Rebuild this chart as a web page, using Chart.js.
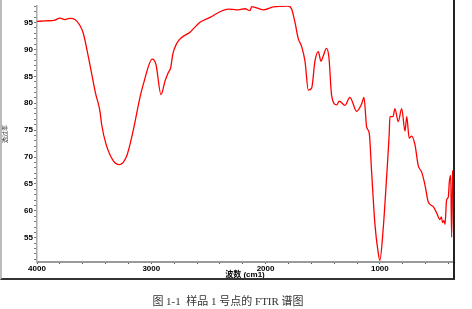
<!DOCTYPE html>
<html>
<head>
<meta charset="utf-8">
<script src="https://cdn.jsdelivr.net/npm/chart.js@4/dist/chart.umd.min.js"></script>
<style>
  body { margin: 0; background: #fff; }
  #wrap { position: relative; width: 472px; height: 309px; overflow: hidden; }
  #frame {
    position: absolute; left: 0; top: -2px; width: 455px; height: 282px;
    border-left: 2px solid #bbb; border-right: 2px solid #222; border-bottom: 2px solid #333;
    box-sizing: border-box;
  }
  #caption {
    position: absolute; left: 0; width: 456px; top: 292px; text-align: center;
    font: 11px "Liberation Serif", "Noto Sans CJK SC", serif; color: #333; white-space: pre;
  }
</style>
</head>
<body>
<div id="wrap">
  <canvas id="chart" width="472" height="309"></canvas>
  <div id="frame"></div>
  <div id="caption">图 1-1  样品 1 号点的 FTIR 谱图</div>
</div>
<script>
// wavenumber (cm-1) and transmittance (%)
const wavenumbers = [4000, 3930, 3843, 3800, 3755, 3711, 3668, 3624, 3595, 3554, 3521, 3486, 3449, 3434, 3396,
  3332, 3280, 3215, 3157, 3099, 3070, 2991, 2959, 2915, 2880, 2851, 2830, 2813, 2778, 2734, 2661,
  2574, 2486, 2399, 2326, 2253, 2180, 2136, 2122, 2020, 1933, 1801, 1772, 1743, 1714, 1684, 1655,
  1626, 1597, 1568, 1539, 1515, 1495, 1467, 1445, 1422, 1378, 1355, 1305, 1262, 1203, 1159, 1139,
  1115, 1093, 1072, 1043, 1017, 1000, 970, 940, 918, 912, 885, 868, 839, 809, 780, 765, 743, 722,
  693, 664, 634, 605, 577, 533, 503, 474, 462, 451, 440, 430, 416, 401, 392, 380, 372, 363];
const transmittance = [95.2, 95.3, 95.45, 95.8, 95.55, 95.75, 95.55, 94.45, 93.0, 89.0, 85.4, 81.7, 78.5, 76.0, 72.4,
  69.3, 68.6, 70.2, 75.05, 81.1, 83.5, 88.2, 87.2, 81.6, 84.1, 85.7, 86.6, 89.0, 91.1, 92.2, 93.2,
  95.05, 95.95, 97.0, 97.5, 97.35, 97.55, 97.2, 97.95, 97.35, 97.9, 98.05, 97.5, 95.05, 92.0, 90.5, 87.8,
  82.45, 82.8, 87.8, 89.6, 87.8, 88.8, 90.2, 88.4, 81.4, 79.7, 80.4, 79.6, 81.1, 78.5, 79.9, 81.1,
  75.5, 74.45, 67.2, 57.5, 52.6, 50.8, 56.9, 66.6, 74.45, 77.5, 77.5, 79.0, 76.6, 79.0, 74.8, 77.5, 73.5, 73.9,
  72.3, 68.4, 67.2, 64.8, 61.7, 60.8, 59.6, 58.4, 58.9, 57.8, 58.2, 57.5, 62.0, 62.6, 65.4, 66.6, 55.1, 67.5];
// tick positions (minor + major) and the ones that carry a label
const xTicks = [400, 600, 800, 1000, 1200, 1400, 1600, 1800, 2000, 2200, 2400, 2600, 2800, 3000,
  3200, 3400, 3600, 3800, 4000];
const xLabels = [1000, 2000, 3000, 4000];
const yTicks = [51, 52, 53, 54, 55, 56, 57, 58, 59, 60, 61, 62, 63, 64, 65, 66, 67, 68, 69, 70, 71, 72,
  73, 74, 75, 76, 77, 78, 79, 80, 81, 82, 83, 84, 85, 86, 87, 88, 89, 90, 91, 92, 93, 94, 95, 96, 97, 98];
const yLabels = [55, 60, 65, 70, 75, 80, 85, 90, 95];

const points = wavenumbers.map(function (w, i) { return { x: w, y: transmittance[i] }; });
const tickFont = { family: "Liberation Sans, Arial, sans-serif", size: 8, weight: "bold" };

function setTicks(list) {
  return function (scale) {
    scale.ticks = list.map(function (v) { return { value: v }; });
  };
}
function labelFor(list) {
  return function (v) { return list.indexOf(v) >= 0 ? String(v) : ""; };
}

new Chart(document.getElementById("chart").getContext("2d"), {
  type: "line",
  data: {
    datasets: [{
      data: points,
      borderColor: "#ff0000",
      borderWidth: 1.3,
      pointRadius: 0,
      cubicInterpolationMode: "monotone",
      fill: false,
    }],
  },
  options: {
    responsive: false,
    animation: false,
    layout: { padding: { left: 0, top: 0, right: 19, bottom: 27 } },
    plugins: { legend: { display: false }, tooltip: { enabled: false } },
    scales: {
      x: {
        type: "linear",
        reverse: true,
        min: 360,
        max: 4000,
        afterBuildTicks: setTicks(xTicks),
        afterFit: function (scale) { scale.height = 20; },
        border: { color: "#999", width: 2 },
        grid: { drawOnChartArea: false, tickLength: 2, color: "#555" },
        ticks: {
          autoSkip: false,
          maxRotation: 0,
          padding: 0,
          color: "#000",
          font: tickFont,
          callback: labelFor(xLabels),
        },
        title: {
          display: true,
          text: "波数 (cm1)",
          color: "#000",
          font: { family: "Liberation Sans, Noto Sans CJK SC, sans-serif", size: 8, weight: "bold" },
          padding: { top: 0, bottom: 2 },
        },
      },
      y: {
        min: 50.5,
        max: 98.1,
        afterBuildTicks: setTicks(yTicks),
        afterFit: function (scale) { scale.width = 37; },
        border: { color: "#aaa", width: 1.5 },
        grid: { drawOnChartArea: false, tickLength: 3, color: "#777" },
        ticks: {
          autoSkip: false,
          padding: 1,
          color: "#000",
          font: tickFont,
          callback: labelFor(yLabels),
        },
        title: {
          display: true,
          text: "透过率",
          color: "#333",
          font: { family: "Noto Sans CJK SC, sans-serif", size: 6 },
          padding: { top: 1, bottom: 0 },
        },
      },
    },
  },
});
</script>
</body>
</html>
